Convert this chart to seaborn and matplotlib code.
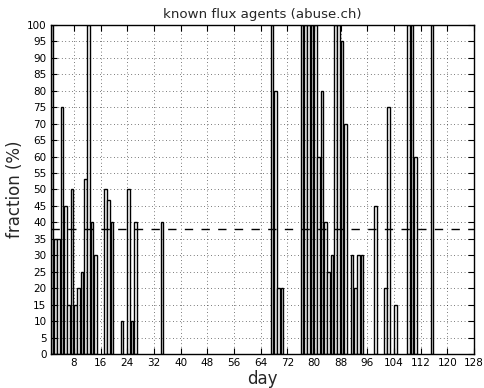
import numpy as np
import pandas as pd
import matplotlib
matplotlib.use("Agg")
import matplotlib.pyplot as plt
import seaborn as sns

# days with a non-zero fraction of known flux agents
days = [1, 2, 3, 4, 5, 6, 7, 8, 9, 10, 11, 12, 13, 14,
        17, 18, 19, 22, 24, 25, 26, 34,
        67, 68, 69, 70, 76, 77, 78, 79, 80, 81, 82, 83, 84, 85,
        86, 87, 88, 89, 91, 92, 93, 94, 98, 101, 102, 104,
        108, 109, 110, 115]
fraction = [100, 35, 35, 75, 45, 15, 50, 15, 20, 25, 53.3, 100, 40, 30,
            50, 46.7, 40, 10, 50, 10, 40, 40,
            100, 80, 20, 20, 100, 100, 100, 100, 100, 60, 80, 40, 25, 30,
            100, 100, 95, 70, 30, 20, 30, 30, 45, 20, 75, 15,
            100, 100, 60, 100]
mean_fraction = 38

sns.set_style("ticks")
plt.rcParams["font.family"] = ["DejaVu Sans"]

fig = plt.figure(figsize=(4.85, 3.88), dpi=100)
ax = fig.add_axes([0.1045, 0.0876, 0.8728, 0.848])

bar_width = 0.8
df = pd.DataFrame({
    "day": np.array(days, dtype=float) + bar_width / 2,  # bars start at the day
    "fraction": fraction,
})

sns.barplot(
    data=df,
    x="day",
    y="fraction",
    native_scale=True,
    width=bar_width,
    color="white",
    edgecolor="black",
    linewidth=1.0,
    errorbar=None,
    ax=ax
)

ax.axhline(mean_fraction, color="black", linestyle="--", linewidth=1.0, dashes=(6, 6))

ax.set_xlim(1, 128)
ax.set_ylim(0, 100)
ax.set_xticks(np.arange(8, 129, 8))
ax.set_yticks(np.arange(0, 101, 5))

ax.grid(True, linestyle=(0, (1, 4)), color="black", linewidth=0.5)
ax.set_axisbelow(False)

ax.tick_params(direction="in", top=True, right=True, length=4, width=0.8,
               labelsize=7.5, pad=3, colors="black")
for sp in ax.spines.values():
    sp.set_visible(True)
    sp.set_color("black")
    sp.set_linewidth(1.0)

ax.set_title("known flux agents (abuse.ch)", fontsize=9.6, pad=5)
ax.set_xlabel("day", fontsize=12, labelpad=1)
ax.set_ylabel("fraction (%)", fontsize=12, labelpad=2)

fig.savefig("out.png", dpi=100)
plt.close(fig)
